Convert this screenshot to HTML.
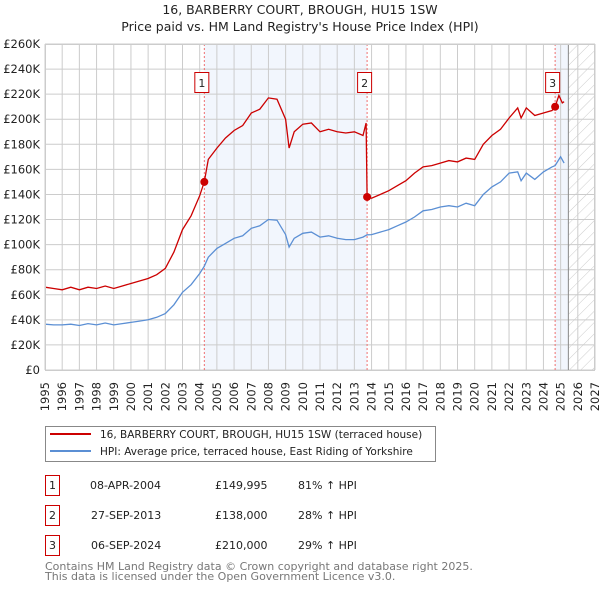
<!DOCTYPE html>
<html><head><meta charset="utf-8">
<style>
body{margin:0;background:#fff;font-family:"Liberation Sans","DejaVu Sans",sans-serif;}
svg text{font-family:"DejaVu Sans","Liberation Sans",sans-serif;}
</style></head>
<body>
<svg id="chart" width="600" height="590" xmlns="http://www.w3.org/2000/svg">
<defs>
<pattern id="hatch" patternUnits="userSpaceOnUse" width="8" height="8" patternTransform="rotate(45)">
<line x1="0" y1="0" x2="0" y2="8" stroke="#ccc" stroke-width="1"/>
</pattern>
</defs>
<text x="300" y="14" text-anchor="middle" font-size="12.5" fill="#222">16, BARBERRY COURT, BROUGH, HU15 1SW</text>
<text x="300" y="31" text-anchor="middle" font-size="12.5" fill="#222">Price paid vs. HM Land Registry's House Price Index (HPI)</text>
<g id="plot"></g>
<g>
<rect x="45.5" y="426.5" width="390" height="35" fill="#fff" stroke="#888"/>
<line x1="50" y1="434" x2="91" y2="434" stroke="#cc0000" stroke-width="2"/>
<text x="100" y="438" font-size="10.5" fill="#222">16, BARBERRY COURT, BROUGH, HU15 1SW (terraced house)</text>
<line x1="50" y1="451" x2="91" y2="451" stroke="#5b8fd4" stroke-width="2"/>
<text x="100" y="455" font-size="10.5" fill="#222">HPI: Average price, terraced house, East Riding of Yorkshire</text>
</g>
<g font-size="11" fill="#222">
<rect x="45.5" y="475.5" width="14" height="20" fill="#fff" stroke="#cc0000"/><text x="52.5" y="489" text-anchor="middle">1</text>
<text x="90" y="489">08-APR-2004</text><text x="215" y="489">£149,995</text><text x="298" y="489">81% ↑ HPI</text>
<rect x="45.5" y="505.5" width="14" height="20" fill="#fff" stroke="#cc0000"/><text x="52.5" y="519" text-anchor="middle">2</text>
<text x="91" y="519">27-SEP-2013</text><text x="215" y="519">£138,000</text><text x="298" y="519">28% ↑ HPI</text>
<rect x="45.5" y="535.5" width="14" height="20" fill="#fff" stroke="#cc0000"/><text x="52.5" y="549" text-anchor="middle">3</text>
<text x="91" y="549">06-SEP-2024</text><text x="215" y="549">£210,000</text><text x="298" y="549">29% ↑ HPI</text>
</g>
<text x="45" y="570" font-size="11" fill="#777">Contains HM Land Registry data © Crown copyright and database right 2025.</text>
<text x="45" y="580" font-size="11" fill="#777">This data is licensed under the Open Government Licence v3.0.</text>
</svg>
<script>
const hpiYears=[1995,1995.5,1996,1996.5,1997,1997.5,1998,1998.5,1999,1999.5,2000,2000.5,2001,2001.5,2002,2002.5,2003,2003.5,2004,2004.27,2004.5,2005,2005.5,2006,2006.5,2007,2007.5,2008,2008.5,2009,2009.2,2009.5,2010,2010.5,2011,2011.5,2012,2012.5,2013,2013.5,2013.74,2014,2014.5,2015,2015.5,2016,2016.5,2017,2017.5,2018,2018.5,2019,2019.5,2020,2020.5,2021,2021.5,2022,2022.5,2022.7,2023,2023.5,2024,2024.5,2024.68,2025,2025.2];
const hpiValues=[36.5,36,36,36.5,35.5,37,36,37.5,36,37,38,39,40,42,45,52,62,68,77,82.8,90,97,101,105,107,113,115,120,119.5,108,98,105,109,110,106,107,105,104,104,106,107.8,108,110,112,115,118,122,127,128,130,131,130,133,131,140,146,150,157,158,151,157,152,158,162,163,170,165];
const priceYears=[1995,1995.5,1996,1996.5,1997,1997.5,1998,1998.5,1999,1999.5,2000,2000.5,2001,2001.5,2002,2002.5,2003,2003.5,2004,2004.27,2004.5,2005,2005.5,2006,2006.5,2007,2007.5,2008,2008.5,2009,2009.2,2009.5,2010,2010.5,2011,2011.5,2012,2012.5,2013,2013.5,2013.68,2013.74,2014,2014.5,2015,2015.5,2016,2016.5,2017,2017.5,2018,2018.5,2019,2019.5,2020,2020.5,2021,2021.5,2022,2022.5,2022.7,2023,2023.5,2024,2024.5,2024.68,2024.9,2025.1,2025.2];
const priceValues=[66,65,64,66,64,66,65,67,65,67,69,71,73,76,81,94,112,123,139,150,168,177,185,191,195,205,208,217,216,200,177,190,196,197,190,192,190,189,190,187,197,138,137,140,143,147,151,157,162,163,165,167,166,169,168,180,187,192,201,209,201,209,203,205,207,210,219,213,214];
const saleYears=[2004.27,2013.74,2024.68];
const saleValues=[149.995,138,210];
const saleLabels=["1","2","3"];
const yTicks=[0,20,40,60,80,100,120,140,160,180,200,220,240,260];
const xTicks=[1995,1996,1997,1998,1999,2000,2001,2002,2003,2004,2005,2006,2007,2008,2009,2010,2011,2012,2013,2014,2015,2016,2017,2018,2019,2020,2021,2022,2023,2024,2025,2026,2027];

const X0=45,X1=595,Y0=370,Y1=44;
const xs=y=>X0+(y-1995)/(2027-1995)*(X1-X0);
const ys=v=>Y0-v/260*(Y0-Y1);
const NS='http://www.w3.org/2000/svg';
const g=document.getElementById('plot');
function mk(t,a){const e=document.createElementNS(NS,t);for(const k in a)e.setAttribute(k,a[k]);g.appendChild(e);return e;}

let e;
e=mk('rect',{x:xs(2004.27),y:Y1,width:xs(2013.74)-xs(2004.27),height:Y0-Y1,fill:'#f2f6fd'});


e=mk('rect',{x:xs(2024.68),y:Y1,width:xs(2025.45)-xs(2024.68),height:Y0-Y1,fill:'#f2f6fd'});


e=mk('rect',{x:xs(2025.45),y:Y1,width:X1-xs(2025.45),height:Y0-Y1,fill:'url(#hatch)'});



yTicks.forEach(v=>{
 e=mk('line',{x1:X0,x2:X1,y1:ys(v),y2:ys(v),stroke:'#ccc','stroke-width':1});
 
 
 e=mk('text',{x:40,y:ys(v)+4,'text-anchor':'end','font-size':11.5,fill:'#222'});
 e.textContent=v===0?'£0':'£'+v+'K';
 
 
});
xTicks.forEach(v=>{
 e=mk('line',{x1:xs(v),x2:xs(v),y1:Y1,y2:Y0,stroke:'#ccc','stroke-width':1});
 
 
 e=mk('text',{x:0,y:0,'text-anchor':'end','font-size':11.5,fill:'#222',transform:`translate(${xs(v)+4},382) rotate(-90)`});
 e.textContent=v;
 
 
});
e=mk('line',{x1:xs(2025.45),x2:xs(2025.45),y1:Y1,y2:Y0,stroke:'#888','stroke-width':1});



saleYears.forEach((s,i)=>{
 e=mk('line',{x1:xs(s),x2:xs(s),y1:Y1,y2:Y0,stroke:'#f07070','stroke-width':1,'stroke-dasharray':'2,2'});
 
 
});

const hp=hpiYears.map((y,i)=>xs(y).toFixed(1)+','+ys(hpiValues[i]).toFixed(1)).join(' ');
e=mk('polyline',{points:hp,fill:'none',stroke:'#5b8fd4','stroke-width':1.3});


const pp=priceYears.map((y,i)=>xs(y).toFixed(1)+','+ys(priceValues[i]).toFixed(1)).join(' ');
e=mk('polyline',{points:pp,fill:'none',stroke:'#cc0000','stroke-width':1.3});



saleYears.forEach((s,i)=>{
 e=mk('circle',{cx:xs(s),cy:ys(saleValues[i]),r:4,fill:'#cc0000'});
 
 
 const bx=xs(s)-10, by=72;
 e=mk('rect',{x:bx+0.5,y:by+0.5,width:14,height:20,fill:'#fff',stroke:'#cc0000'});
 
 
 e=mk('text',{x:bx+7.5,y:by+15,'text-anchor':'middle','font-size':11,fill:'#222'});
 e.textContent=saleLabels[i];
 
 
});
e=mk('rect',{x:X0+0.5,y:Y1+0.5,width:X1-X0-1,height:Y0-Y1,fill:'none',stroke:'#ccc'});


</script>
</body></html>
